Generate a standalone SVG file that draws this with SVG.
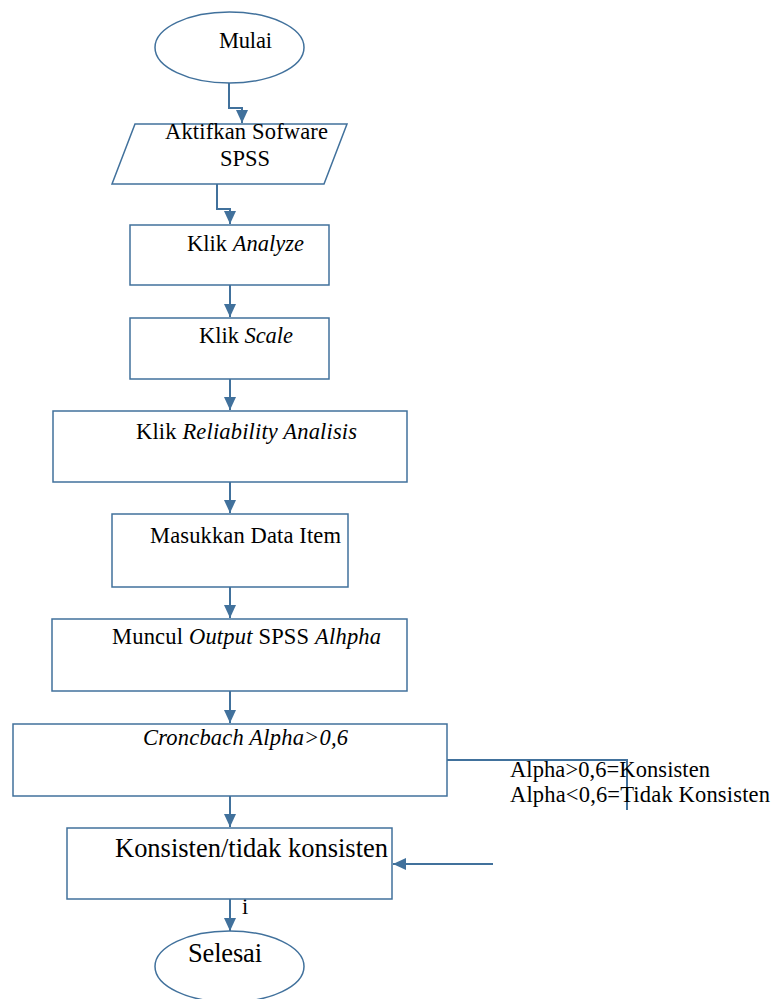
<svg xmlns="http://www.w3.org/2000/svg" width="777" height="999" viewBox="0 0 777 999">
<style>
.s{fill:#fff;stroke:#41719c;stroke-width:1.5}
.c{fill:none;stroke:#41719c;stroke-width:2}
.t{font-family:"Liberation Serif","Times New Roman",serif;font-size:22.5px;fill:#000}
.b{font-size:26.5px}
.i{font-style:italic}
</style>
<defs>
<marker id="ah" markerUnits="userSpaceOnUse" markerWidth="14" markerHeight="14" viewBox="0 0 14 14" refX="13" refY="7" orient="auto">
<path d="M0,1 L13,7 L0,13 Z" fill="#41719c"/>
</marker>
</defs>
<rect width="777" height="999" fill="#fff"/>
<g id="connectors">
<path class="c" d="M229,83 V108 H242 V123" marker-end="url(#ah)"/>
<path class="c" d="M217,184 V209 H230 V224" marker-end="url(#ah)"/>
<path class="c" d="M230,285 V317" marker-end="url(#ah)"/>
<path class="c" d="M230,379 V410" marker-end="url(#ah)"/>
<path class="c" d="M230,482 V513" marker-end="url(#ah)"/>
<path class="c" d="M230,587 V618" marker-end="url(#ah)"/>
<path class="c" d="M230,691 V723" marker-end="url(#ah)"/>
<path class="c" d="M230,796 V827" marker-end="url(#ah)"/>
<path class="c" d="M230,899 V931" marker-end="url(#ah)"/>
<path class="c" d="M447,760 H627 V810"/>
<path class="c" d="M493,864 H393" marker-end="url(#ah)"/>
<text class="t" x="242" y="914">i</text>
</g>
<g id="mulai">
<ellipse class="s" cx="229.5" cy="47.5" rx="74.5" ry="35.5"/>
<text class="t" x="219" y="48" textLength="53" lengthAdjust="spacing">Mulai</text>
</g>
<g id="aktifkan">
<path class="s" d="M135,124 H347 L324,184 H112 Z"/>
<text class="t" x="165" y="139" textLength="163" lengthAdjust="spacing">Aktifkan Sofware</text>
<text class="t" x="220" y="166" textLength="50" lengthAdjust="spacing">SPSS</text>
</g>
<g id="analyze">
<rect class="s" x="130" y="225" width="199" height="60"/>
<text class="t" x="187" y="251" textLength="117" lengthAdjust="spacing">Klik <tspan class="i">Analyze</tspan></text>
</g>
<g id="scale">
<rect class="s" x="130" y="318" width="199" height="61"/>
<text class="t" x="199" y="343" textLength="94" lengthAdjust="spacing">Klik <tspan class="i">Scale</tspan></text>
</g>
<g id="reliability">
<rect class="s" x="53" y="411" width="354" height="71"/>
<text class="t" x="136" y="439" textLength="221" lengthAdjust="spacing">Klik <tspan class="i">Reliability Analisis</tspan></text>
</g>
<g id="masukkan">
<rect class="s" x="112" y="514" width="236" height="73"/>
<text class="t" x="150" y="543" textLength="191" lengthAdjust="spacing">Masukkan Data Item</text>
</g>
<g id="muncul">
<rect class="s" x="52" y="619" width="355" height="72"/>
<text class="t" x="112" y="644" textLength="269" lengthAdjust="spacing">Muncul <tspan class="i">Output</tspan> SPSS <tspan class="i">Alhpha</tspan></text>
</g>
<g id="croncbach">
<rect class="s" x="13" y="724" width="434" height="72"/>
<text class="t i" x="143" y="745" textLength="205" lengthAdjust="spacing">Croncbach Alpha&gt;0,6</text>
</g>
<g id="keterangan">
<text class="t" x="510" y="777" textLength="200" lengthAdjust="spacing">Alpha&gt;0,6=Konsisten</text>
<text class="t" x="510" y="802" textLength="260" lengthAdjust="spacing">Alpha&lt;0,6=Tidak Konsisten</text>
</g>
<g id="konsisten">
<rect class="s" x="67" y="828" width="325" height="71"/>
<text class="t b" x="115" y="857" textLength="273" lengthAdjust="spacing">Konsisten/tidak konsisten</text>
</g>
<g id="selesai">
<ellipse class="s" cx="229.5" cy="966.5" rx="74.5" ry="35.5"/>
<text class="t b" x="188" y="962" textLength="74" lengthAdjust="spacing">Selesai</text>
</g>
</svg>
